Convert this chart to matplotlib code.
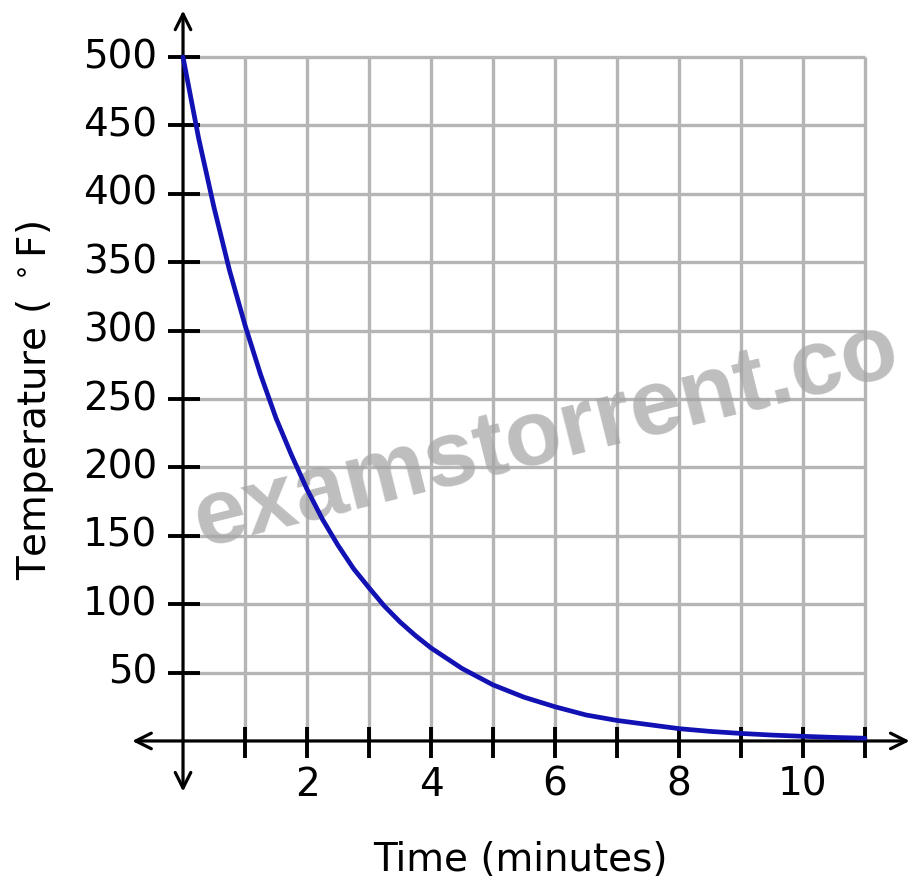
import matplotlib.pyplot as plt

# curve (time in minutes, temperature in F)
time_min = [0, 0.25, 0.5, 0.75, 1, 1.25, 1.5, 1.75, 2, 2.25, 2.5, 2.75, 3, 3.25, 3.5, 3.75, 4,
            4.5, 5, 5.5, 6, 6.5, 7, 7.5, 8, 8.5, 9, 9.5, 10, 10.5, 11]
temp_f = [500, 441, 390, 344, 304, 268, 236, 209, 184, 162, 143, 126, 112, 98.5, 87, 77, 68,
          53, 41, 32, 25, 19, 15, 12, 9, 7, 5.5, 4.3, 3.4, 2.6, 2]

x_grid = [1, 2, 3, 4, 5, 6, 7, 8, 9, 10, 11]
y_grid = [50, 100, 150, 200, 250, 300, 350, 400, 450, 500]
x_labels = [2, 4, 6, 8, 10]

fig = plt.figure(figsize=(9.11, 8.85), dpi=100)
ax = fig.add_axes([0, 0, 1, 1])
ax.set_xlim(-2.952, 11.742)
ax.set_ylim(-105.3, 541.7)
ax.axis('off')

# grid
ax.vlines(x_grid, 0, 500, color='#b5b5b5', lw=2.4, zorder=1)
ax.hlines(y_grid, 0, 11, color='#b5b5b5', lw=2.4, zorder=1)

# axes with arrows
ax.annotate('', xy=(11.72, 0), xytext=(-0.82, 0),
            arrowprops=dict(arrowstyle='<->', lw=2.3, color='black', mutation_scale=28,
                            shrinkA=0, shrinkB=0), zorder=4)
ax.annotate('', xy=(0, 534), xytext=(0, -37),
            arrowprops=dict(arrowstyle='<->', lw=2.3, color='black', mutation_scale=28,
                            shrinkA=0, shrinkB=0), zorder=4)

# tick marks
ax.vlines(x_grid, -12.4, 10.2, color='black', lw=2.8, zorder=4)
ax.hlines(y_grid, -0.25, 0.27, color='black', lw=2.8, zorder=4)

# tick labels
for v in y_grid:
    ax.text(-0.42, v, str(v), ha='right', va='center', fontsize=28)
for v in x_labels:
    ax.text(v, -32, str(v), ha='center', va='center', fontsize=28)

ax.text(5.44, -87, 'Time (minutes)', ha='center', va='center', fontsize=28)
ax.text(-2.39, 249, 'Temperature ( $^\\circ$F)', ha='center', va='center',
        rotation=90, fontsize=28)

# watermark (cut at the right edge in the original)
ax.text(0.3, 142, 'examstorrent.co', family='Liberation Sans', weight='bold',
        fontsize=67, color='#a5a5a5', alpha=0.72, rotation=14,
        ha='left', va='baseline', rotation_mode='anchor', zorder=2)

# curve
ax.plot(time_min, temp_f, color='#1212b4', lw=3.4, zorder=5, solid_capstyle='round')

fig.savefig('out.png', dpi=100)
